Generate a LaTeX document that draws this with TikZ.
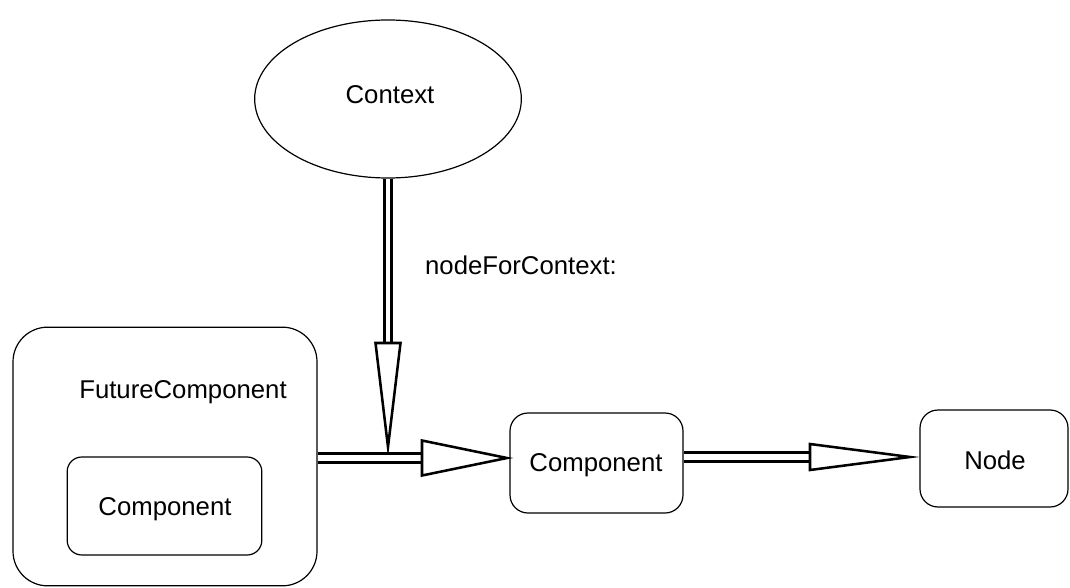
\documentclass[tikz,border=0pt]{standalone}
\usepackage{fontspec}
\setmainfont{Liberation Sans}
\usetikzlibrary{shapes.geometric,calc}
\begin{document}
\begin{tikzpicture}[x=0.75pt,y=-0.75pt,
  every node/.style={font=\fontsize{19.3}{23}\selectfont, text=black},
  box/.style={draw=black, line width=0.9pt, rounded corners=13.5pt, inner sep=0pt},
  shaft/.style={draw=black, line width=2.3pt, double=white, double distance=3.6pt},
  head/.style={draw=black, fill=white, line width=1.9pt, line join=miter}]
\useasboundingbox (0,0) rectangle (1070,588);
% nodes
\node[draw=black, line width=0.9pt, ellipse, minimum width=200pt, minimum height=118.5pt, inner sep=0pt] (ctx) at (388,99) {};
\node (ctxl) at (390,95) {Context};
\node[box, rounded corners=26pt, minimum width=228pt, minimum height=194pt] (fc) at (165,456.5) {};
\node (fcl) at (183,392) {FutureComponent};
\node[box, rounded corners=11pt, minimum width=146pt, minimum height=73.5pt] (inner) at (164.5,506) {};
\node (innerl) at (165,509) {Component};
\node[box, minimum width=129.75pt, minimum height=75pt] (comp) at (596.5,463) {};
\node (compl) at (596,465) {Component};
\node[box, minimum width=111pt, minimum height=72.75pt] (nd) at (994,458.5) {};
\node (ndl) at (995,460) {Node};
\node (nfc) at (521,265) {nodeForContext:};
% vertical arrow
\coordinate (vt) at (ctx.south |- 0,447);
\coordinate (vb) at (ctx.south |- 0,343);
\draw[shaft] (ctx.south) -- (vb);
\draw[head] ($(vb)+(-12.5,0)$) -- (vt) -- ($(vb)+(12.5,0)$) -- cycle;
% arrow fc -> comp
\coordinate (at1) at (507,458);
\coordinate (ab1) at (422,458);
\draw[shaft, double distance=5pt] (fc.east |- ab1) -- (ab1);
\draw[head] ($(ab1)+(0,-17.5)$) -- (at1) -- ($(ab1)+(0,17.5)$) -- cycle;
% arrow comp -> nd
\coordinate (at2) at (910,457);
\coordinate (ab2) at (810,457);
\draw[shaft, double distance=4.5pt] (comp.east |- ab2) -- (ab2);
\draw[head] ($(ab2)+(0,-13)$) -- (at2) -- ($(ab2)+(0,13)$) -- cycle;
\end{tikzpicture}
\end{document}
